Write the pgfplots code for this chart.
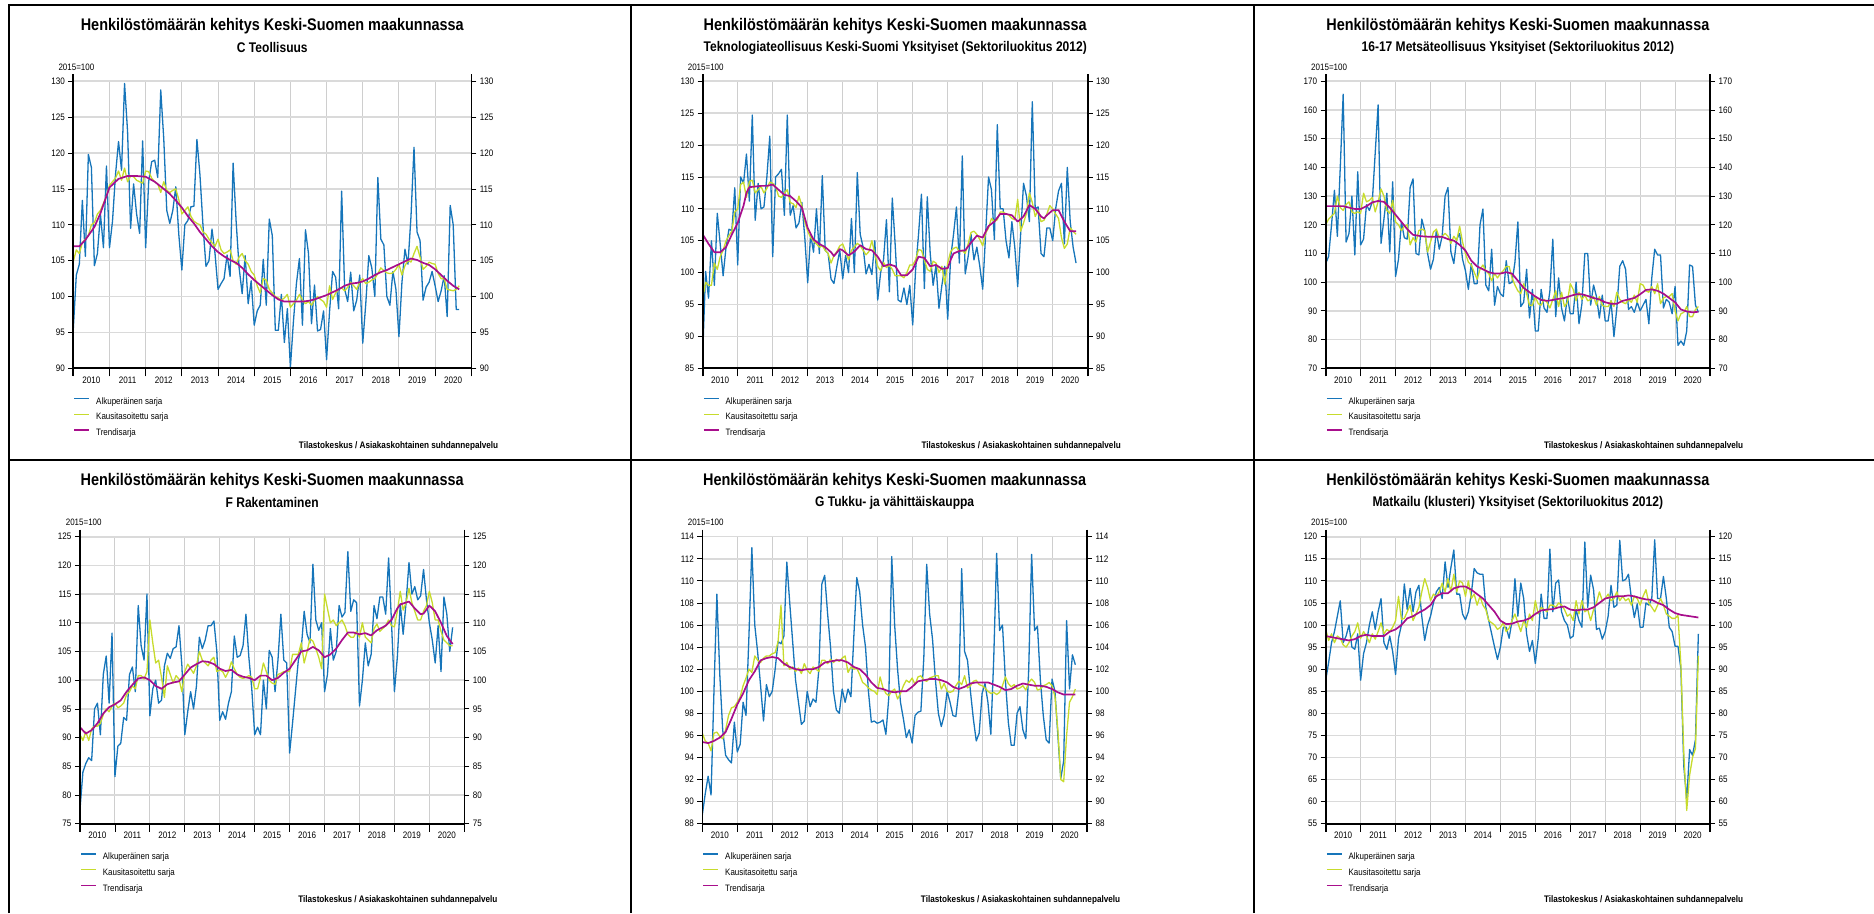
\documentclass[border=0pt]{standalone}
\usepackage{fontspec}
\setmainfont{Liberation Sans}[FakeStretch=0.86]
\usepackage{pgfplots}
\pgfplotsset{compat=1.18}
\definecolor{cblue}{RGB}{22,117,186}
\definecolor{cgreen}{RGB}{199,219,44}
\definecolor{cmag}{RGB}{168,14,140}
\definecolor{cgrid}{RGB}{218,218,218}
\definecolor{cgridx}{RGB}{206,206,206}
\newcommand{\ttl}{\fontsize{16.8}{19}\selectfont\bfseries}
\newcommand{\sub}{\fontsize{14}{16}\selectfont\bfseries}
\newcommand{\sml}{\fontsize{9.3}{11}\selectfont}
\newcommand{\src}{\fontsize{9.5}{11}\selectfont\bfseries}
\pgfplotsset{
 pbase/.style={scale only axis, height=287pt, xmin=0, xmax=132, anchor=south west,
   axis line style={draw=none}, tick align=outside, major tick length=5pt,
   tick style={black, line width=0.8pt},
   ticklabel style={font=\fontsize{9.4}{10}\selectfont},
   /pgf/number format/assume math mode=true},
 pmain/.style={pbase, xtick={0,12,...,132}, xtick style={draw=none},
   x tick label as interval,
   xticklabels={2010,2011,2012,2013,2014,2015,2016,2017,2018,2019,2020},
   ytick pos=left, xmajorgrids, ymajorgrids,
   x grid style={cgridx, line width=1pt},
   y grid style={cgrid, line width=1.6pt},
   legend style={at={(rel axis cs:0,0)}, anchor=north west, yshift=-27pt,
     draw=none, fill=none, inner sep=0pt, row sep=3.5pt, column sep=4pt,
     font=\sml, cells={anchor=west}},
   legend image code/.code={\draw[#1] (0pt,3pt) -- (15pt,3pt);},
   legend cell align=left,
   after end axis/.code={
     \draw[line width=1.6pt] ([yshift=7pt]rel axis cs:0,1) -- ([yshift=-8pt]rel axis cs:0,0);
     \draw[line width=1.6pt] ([yshift=7pt]rel axis cs:1,1) -- ([yshift=-8pt]rel axis cs:1,0);
     \draw[line width=1.6pt] (rel axis cs:0,0) -- (rel axis cs:1,0);}},
 pright/.style={pbase, xtick=\empty, ytick pos=right, yticklabel pos=right},
 pxt/.style={pbase, major tick length=8pt, xtick={0,12,...,132}, xticklabels={},
   xtick pos=bottom, ytick=\empty},
 sblue/.style={cblue, line width=1.3pt, line join=round, no marks},
 sgreen/.style={cgreen, line width=1.3pt, line join=round, no marks},
 smag/.style={cmag, line width=1.7pt, line join=round, no marks},
 table/tb/.style={row sep=\\, header=false, x expr=\coordindex, y index=0},
}
\begin{document}
\begin{tikzpicture}[x=1pt,y=1pt]
\path[use as bounding box] (0,0) rectangle (1874,913);
\draw[line width=2pt] (9,0) -- (9,909);
\draw[line width=2pt] (8,908) -- (1874,908);
\draw[line width=2.3pt] (631.2,0) -- (631.2,909);
\draw[line width=2.3pt] (1254,0) -- (1254,909);
\draw[line width=1.3pt] (9,453) -- (1874,453);

% ================= Panel 1: C Teollisuus
\begin{axis}[pmain, at={(73.3pt,544.7pt)}, width=398pt, ymin=90, ymax=130, ytick={90,95,...,130}]
\addplot[sblue] table[tb]{95.5\\103\\104.5\\113.4\\105.6\\119.8\\118\\104.3\\106\\111.5\\106.8\\118.2\\
106.8\\110.5\\117\\121.6\\117.6\\129.7\\123\\109.5\\115.7\\111.5\\108.8\\121.7\\
106.8\\116\\118.8\\119\\116.6\\128.8\\122\\112\\110.2\\112\\115.3\\108.6\\
103.7\\110\\110.6\\112.5\\112.6\\121.9\\117\\110\\104.2\\105\\109.4\\106\\
101\\101.8\\102.5\\105.8\\102.8\\118.6\\110.5\\104\\100.4\\105.7\\99\\102.2\\
96\\98\\98.8\\105.2\\98.8\\110.8\\108.5\\95.3\\95.3\\100.3\\93.6\\98.3\\
90.1\\96.5\\101.8\\105.3\\96\\109.3\\106\\96.2\\101.6\\95.2\\95.4\\98\\
91.2\\98\\103.5\\102.7\\98.3\\114.7\\101\\99.3\\103.4\\98\\99.5\\103\\
93.5\\99\\105.7\\104\\100\\116.6\\108\\107.2\\100\\98.8\\103.5\\101\\
94.4\\102\\106.6\\104.5\\111.2\\120.8\\109\\107.8\\99.5\\101.3\\102\\103.5\\
101.5\\99.3\\100.8\\102.9\\97.2\\112.7\\110\\98.2\\98.2\\};
\addlegendentry{Alkuperäinen sarja}
\addplot[sgreen] table[tb]{104.9\\106.5\\106\\107.5\\108\\108.5\\110\\110.3\\111.5\\112\\113\\114\\
115.5\\116\\116.5\\117.5\\116.2\\117.9\\116\\116.8\\116.7\\116.2\\116\\115.8\\
117.5\\117.4\\116.5\\116\\115.7\\114.5\\116\\114.8\\114.5\\114.8\\115\\113.5\\
111.5\\112\\112.5\\111.2\\110.5\\110.2\\110\\109\\108.7\\108\\107.5\\107\\
108\\106.5\\106\\106.2\\106.5\\105\\104.5\\105.5\\106\\105\\104.5\\103.5\\
103\\101.5\\100.5\\102.5\\102.3\\101\\100.5\\100\\99.8\\99.5\\99.8\\100.3\\
98.5\\99\\99.5\\100.3\\99.5\\99\\99.3\\98.8\\99.5\\100\\99.6\\99.3\\
98.5\\101.5\\99.6\\100.5\\101\\101.2\\100.8\\101.3\\102\\101.5\\101\\102\\
102.5\\101.8\\102\\102.3\\102.5\\103.2\\104\\103.6\\103.3\\103.2\\103.3\\103.8\\
104.5\\103\\104.3\\105\\104.8\\106\\107\\105.5\\103.8\\104.2\\104.8\\104.6\\
104.5\\103.2\\102.5\\102.5\\101\\100.9\\100.8\\101\\101.5\\};
\addlegendentry{Kausitasoitettu sarja}
\addplot[smag] coordinates {(0,107)(2,107)(4,107.9)(7,109.7)(9,111.6)(10,112.8)(12,115.2)(15,116.4)(18,116.8)(21,116.8)(24,116.7)(27,116)(30,115)(32,114.3)(34,113.4)(36,112.4)(38,111.2)(40,110.2)(42,109)(44,108)(46,107)(48,106.2)(50,105.6)(52,105.1)(54,104.7)(56,104)(58,103.1)(60,102.3)(62,101.6)(64,100.9)(66,100.2)(68,99.6)(70,99.3)(72,99.3)(74,99.3)(76,99.3)(78,99.4)(80,99.6)(82,99.9)(84,100.2)(86,100.6)(88,101)(90,101.5)(92,101.8)(94,101.9)(96,102.1)(98,102.5)(100,103)(102,103.4)(104,103.7)(106,104.1)(108,104.5)(110,104.9)(112,105.3)(114,105.1)(116,104.7)(118,104.4)(120,103.8)(122,103)(124,102.2)(126,101.5)(128,101)};
\addlegendentry{Trendisarja}
\end{axis}
\begin{axis}[pright, at={(73.3pt,544.7pt)}, width=398pt, ymin=90, ymax=130, ytick={90,95,...,130}]\end{axis}
\begin{axis}[pxt, at={(73.3pt,544.7pt)}, width=398pt, ymin=90, ymax=130]\end{axis}
\node[font=\ttl] at (272.3,887) {Henkilöstömäärän kehitys Keski-Suomen maakunnassa};
\node[font=\sub] at (272.3,865.3) {C Teollisuus};
\node[anchor=west,font=\sml] at (55,845.3) {2015=100};
\node[anchor=east,font=\src] at (501.7,467.3) {Tilastokeskus / Asiakaskohtainen suhdannepalvelu};

% ================= Panel 2: Teknologiateollisuus
\begin{axis}[pmain, at={(702.7pt,544.7pt)}, width=385pt, ymin=85, ymax=130, ytick={85,90,...,130}]
\addplot[sblue] table[tb]{87.3\\100.2\\96\\105\\98\\109.3\\104.5\\99.5\\104\\106.8\\106.6\\113.3\\
101.2\\115\\114\\118.6\\111.2\\124.7\\108.2\\114\\110\\110.3\\115\\121.4\\
102.5\\115\\115.5\\116.2\\109\\124.7\\109\\110.5\\107\\107.8\\111\\105.5\\
98.4\\106\\103.2\\110\\103\\115.2\\103.5\\103\\99\\98.3\\101\\103.5\\
99\\102.7\\100\\108.5\\100\\115.7\\106\\104\\99.8\\101.3\\99.7\\105\\
95.7\\100\\102\\108.3\\97\\111.7\\104.3\\95.7\\95.4\\97.6\\95\\98\\
91.8\\100.5\\106\\112.3\\97.5\\111.9\\103\\98\\101.2\\94.4\\98\\101\\
92.7\\102.3\\106\\110.3\\101.5\\118.3\\99.8\\102.5\\106\\102\\104\\101\\
97.4\\106\\115\\113\\105.2\\123.2\\110\\110\\105\\102.3\\108\\104\\
97.8\\106\\114\\112\\108\\126.8\\110\\110.3\\103\\102.5\\107\\107\\
105\\110\\112.8\\114\\104.5\\116.5\\108\\104\\101.5\\};
\addlegendentry{Alkuperäinen sarja}
\addplot[sgreen] table[tb]{96\\98.5\\98\\98\\101.5\\100.5\\102.5\\103.5\\105\\105.8\\106.5\\109.5\\
110\\113.8\\114.2\\111.8\\114.3\\114.5\\112.5\\113\\113.5\\112.5\\113.2\\114.2\\
114\\113.5\\112\\111.8\\112.5\\113\\111\\110.8\\110.2\\112\\110.5\\108\\
106.5\\105.5\\105\\104.5\\104\\104.2\\103.5\\103\\101.5\\102.7\\103.3\\104.2\\
104.5\\103.3\\102\\103.5\\104\\104.6\\104.2\\103.5\\102.8\\103.3\\105\\103\\
101\\100.3\\101.6\\100.8\\101.2\\100.5\\99.5\\99.5\\99.5\\99.2\\100\\101.2\\
101.2\\102\\103.6\\103.5\\102\\100.5\\100.2\\101.8\\101.5\\100\\101\\98.2\\
101.5\\103.3\\103.8\\104\\103.3\\103.5\\103\\104.5\\106.3\\106.5\\106\\105.2\\
104.2\\106.2\\107\\108.5\\108\\108.3\\109.5\\109.5\\109.2\\109\\108.5\\108.3\\
111.5\\106.5\\107.8\\109.3\\112.5\\111\\108.8\\109.8\\108\\108.2\\109.2\\110.5\\
110\\109.2\\108.5\\105.5\\103.8\\104.5\\107\\106.5\\106\\};
\addlegendentry{Kausitasoitettu sarja}
\addplot[smag] coordinates {(0,106)(2,104.5)(4,103.2)(6,103.2)(8,104)(10,106)(12,107.8)(14,110.5)(15,112.5)(16,113.4)(18,113.5)(20,113.6)(22,113.6)(24,113.8)(26,113)(28,112.2)(30,112)(32,111.2)(34,110.2)(36,107)(38,105.2)(40,104.5)(42,104)(44,103.2)(45,102.6)(47,103.7)(48,103.5)(50,102.7)(52,103.3)(54,104.3)(56,103.7)(58,103.5)(60,102.5)(62,101)(64,101.3)(66,101)(68,99.6)(70,99.6)(72,100.5)(74,102.5)(76,102.3)(78,101)(80,101.2)(82,100.6)(84,100.7)(85,102)(86,103)(88,103.4)(90,103.5)(92,104.7)(94,105.8)(96,105.5)(98,107.3)(100,108)(102,109.2)(104,109.2)(106,109)(108,108)(110,108.8)(112,110.6)(114,110)(116,108.8)(117,108.5)(118,109)(120,109.8)(122,109.8)(124,108)(126,106.5)(128,106.5)};
\addlegendentry{Trendisarja}
\end{axis}
\begin{axis}[pright, at={(702.7pt,544.7pt)}, width=385pt, ymin=85, ymax=130, ytick={85,90,...,130}]\end{axis}
\begin{axis}[pxt, at={(702.7pt,544.7pt)}, width=385pt, ymin=85, ymax=130]\end{axis}
\node[font=\ttl] at (895.2,887) {Henkilöstömäärän kehitys Keski-Suomen maakunnassa};
\node[font=\sub] at (895.2,865.3) {Teknologiateollisuus Keski-Suomi Yksityiset (Sektoriluokitus 2012)};
\node[anchor=west,font=\sml] at (684.3,845.3) {2015=100};
\node[anchor=east,font=\src] at (1124.3,467.3) {Tilastokeskus / Asiakaskohtainen suhdannepalvelu};

% ================= Panel 3: Metsateollisuus
\begin{axis}[pmain, at={(1325.7pt,544.7pt)}, width=384.3pt, ymin=70, ymax=170, ytick={70,80,...,170}]
\addplot[sblue] table[tb]{106.5\\109\\120\\132\\116\\140\\165.5\\114\\117\\130\\109.5\\138.5\\
113\\115\\127\\125\\128\\145\\161.8\\113.5\\122\\131\\110.5\\135\\
102\\108\\121\\115.5\\115\\133\\136\\110\\109.5\\122\\118\\110\\
104.5\\108\\118\\111.5\\116\\130\\133\\110.5\\106.5\\115\\117\\108\\
104\\97.5\\106.5\\99.5\\99.5\\120\\125.5\\99\\97\\111.5\\92\\98.5\\
96\\95\\107.5\\99.5\\100\\107\\121\\91.5\\93\\104.5\\87.5\\97.5\\
83\\83\\97.5\\91\\89.5\\97\\115\\88\\101.5\\91\\86.5\\95\\
89\\89\\100\\85.5\\92.5\\110\\110\\92\\99\\95\\87.5\\95.5\\
86.5\\86.5\\93.5\\81\\91\\105.5\\107.5\\104.5\\90.5\\91.5\\89.5\\93\\
90\\92\\94\\85.5\\101.5\\111.5\\109.5\\109.5\\91\\94\\93\\89\\
98.5\\78\\79.5\\78\\83\\106\\105.5\\92\\89.5\\};
\addlegendentry{Alkuperäinen sarja}
\addplot[sgreen] table[tb]{120\\122\\123\\124\\130\\126\\125\\127\\128\\124.5\\124\\124.5\\
124\\131\\128\\128.5\\129.5\\124.5\\128\\132.5\\130\\125\\124\\128.5\\
121\\120\\118\\119.5\\120\\113\\115.5\\114\\118\\118.5\\118\\110.5\\
114\\117.5\\118.5\\115.5\\116\\117\\116\\113.5\\116\\114.5\\119.5\\114\\
110\\107\\106\\103.5\\101\\104.5\\106\\104\\103\\100.5\\103\\101.5\\
103\\104\\105.5\\105.5\\101.5\\99\\97\\96\\99.5\\96\\92\\92\\
95\\92.5\\92\\94\\93\\91\\94\\97\\91.5\\96.5\\91.5\\93\\
99.5\\97.5\\93.5\\96.5\\94\\95.5\\93.5\\94\\95\\92\\95\\92\\
91.5\\91.5\\93.5\\91.5\\96.5\\94\\93\\92.5\\94\\93\\95.5\\93\\
99.5\\99\\97\\96.5\\98.5\\96\\99.5\\92.5\\94.5\\95\\95\\96\\
90\\86.5\\89\\89.5\\91.5\\88\\88\\90.5\\91.5\\};
\addlegendentry{Kausitasoitettu sarja}
\addplot[smag] coordinates {(0,126.5)(6,126.5)(8,126)(10,125.5)(12,125.5)(14,126.5)(16,127.8)(18,128.3)(20,128)(22,126)(24,123.5)(26,121)(28,118.5)(30,116.5)(33,116)(36,115.8)(40,115.8)(42,115)(44,114.5)(46,113)(48,111)(50,107.5)(52,105.5)(54,104.5)(56,103.5)(58,103)(60,103)(62,103.5)(64,103)(66,100.5)(68,98)(70,96.5)(72,95)(74,93.8)(76,93.5)(78,93.8)(80,94.2)(82,94.5)(84,95.2)(86,95.8)(88,95.8)(90,95.2)(92,94.5)(94,94)(96,93)(98,92.5)(100,92.5)(102,93.5)(104,94)(106,94.5)(108,95.8)(110,97.3)(112,97.5)(114,97)(116,96)(118,94.5)(120,93)(122,90.5)(124,89.8)(126,89.5)(128,89.7)};
\addlegendentry{Trendisarja}
\end{axis}
\begin{axis}[pright, at={(1325.7pt,544.7pt)}, width=384.3pt, ymin=70, ymax=170, ytick={70,80,...,170}]\end{axis}
\begin{axis}[pxt, at={(1325.7pt,544.7pt)}, width=384.3pt, ymin=70, ymax=170]\end{axis}
\node[font=\ttl] at (1517.85,887) {Henkilöstömäärän kehitys Keski-Suomen maakunnassa};
\node[font=\sub] at (1517.85,865.3) {16-17 Metsäteollisuus Yksityiset (Sektoriluokitus 2012)};
\node[anchor=west,font=\sml] at (1307.7,845.3) {2015=100};
\node[anchor=east,font=\src] at (1746.7,467.3) {Tilastokeskus / Asiakaskohtainen suhdannepalvelu};

% ================= Panel 4: F Rakentaminen
\begin{axis}[pmain, at={(80pt,89.3pt)}, width=384.3pt, ymin=75, ymax=125, ytick={75,80,...,125}]
\addplot[sblue] table[tb]{77.5\\84\\85.5\\86.5\\86\\95\\96\\90.5\\101\\104.2\\96\\108.2\\
83.2\\88.5\\89\\93.5\\93\\101\\102.3\\98\\113\\106\\103.5\\115\\
93.8\\98.5\\100\\96\\96.5\\102.5\\104.7\\103.8\\105.5\\105.8\\109.5\\102.5\\
90.5\\94.5\\98\\95\\99\\107.5\\105.5\\107\\109.5\\109.5\\110.3\\105\\
93\\94.5\\93.2\\96\\98\\107.7\\104\\104.3\\106\\111.5\\104\\98.5\\
90.5\\91.8\\90.5\\100\\95\\105.2\\104\\98\\103.5\\111.5\\103.5\\103\\
87.3\\92.5\\98\\103.5\\105.5\\112\\108\\106.5\\120.2\\110.5\\108.7\\110\\
98\\101\\109\\103.5\\105\\113\\111\\111.8\\122.4\\112\\114\\113.5\\
95.5\\100\\106.5\\102.5\\104.5\\113\\110.7\\114.5\\114.5\\111.5\\121.3\\110\\
98\\104\\113.3\\108\\113.5\\120.5\\115\\116.3\\114\\114.7\\119.3\\114\\
110\\107\\103\\109.5\\101.5\\114.5\\111.5\\105\\109.2\\};
\addlegendentry{Alkuperäinen sarja}
\addplot[sgreen] table[tb]{90.5\\89.5\\91\\89.5\\91.5\\92\\92\\92.5\\94\\95\\94.5\\95.5\\
96\\95.2\\95.5\\96\\97.5\\98\\99\\98.5\\100.8\\100.8\\100.2\\101.5\\
110.5\\106.5\\103\\103.5\\100.5\\97\\102.5\\101\\99.5\\100.8\\100.2\\98\\
101.5\\102.8\\102\\101.2\\102.5\\105\\103.5\\103\\102.5\\103.5\\104\\101.5\\
101.8\\101.5\\100.5\\101.5\\103.2\\102\\101\\100.5\\100.3\\100.5\\100.8\\100.5\\
98.5\\98.5\\100.5\\103\\101.5\\100\\99.5\\99.3\\101\\101.2\\101.5\\101.5\\
101.5\\104.5\\104.5\\104.5\\106.5\\103\\105\\107.2\\106.8\\105.5\\104\\102\\
115\\112.5\\110\\110.5\\109.5\\110\\110.5\\109.5\\108\\107.5\\107.5\\108.5\\
107.5\\110\\107.5\\107\\106.5\\109\\109.8\\108.5\\109\\109.5\\110.5\\109.5\\
109.3\\112\\115.5\\112.2\\113.5\\116\\113.5\\112\\110.5\\110.5\\112\\113\\
115.5\\113.5\\110.5\\110.5\\108.5\\107\\106.5\\106\\106\\};
\addlegendentry{Kausitasoitettu sarja}
\addplot[smag] coordinates {(0,91.8)(2,90.7)(4,91.3)(6,92.5)(8,94.2)(10,95.3)(12,95.8)(14,96.5)(16,98)(18,99.2)(20,100.3)(22,100.5)(24,100)(26,99)(28,98.5)(30,99.3)(32,99.6)(34,99.8)(36,101)(38,102.2)(40,102.8)(42,103.3)(44,103.2)(46,102.8)(48,102)(50,101.6)(52,101.8)(54,101)(56,100.6)(58,100.4)(60,100)(62,100.8)(64,100.8)(66,100)(68,100.4)(70,101.3)(72,102)(74,103.5)(76,105)(78,105.2)(80,105.8)(82,105.2)(84,104)(86,104.5)(88,105.5)(90,107)(92,108.3)(94,108.3)(96,108)(98,108.2)(100,107.8)(102,108.7)(105,109.5)(107,110.5)(109,112.5)(110,113.2)(113,113.7)(115,112.5)(117,111.5)(118,111.6)(120,113)(122,112)(124,110)(126,107.7)(128,106.3)};
\addlegendentry{Trendisarja}
\end{axis}
\begin{axis}[pright, at={(80pt,89.3pt)}, width=384.3pt, ymin=75, ymax=125, ytick={75,80,...,125}]\end{axis}
\begin{axis}[pxt, at={(80pt,89.3pt)}, width=384.3pt, ymin=75, ymax=125]\end{axis}
\node[font=\ttl] at (272.15,432) {Henkilöstömäärän kehitys Keski-Suomen maakunnassa};
\node[font=\sub] at (272.15,410.3) {F Rakentaminen};
\node[anchor=west,font=\sml] at (62.3,390.3) {2015=100};
\node[anchor=east,font=\src] at (501,12.7) {Tilastokeskus / Asiakaskohtainen suhdannepalvelu};

% ================= Panel 5: G Tukku- ja vahittaiskauppa
\begin{axis}[pmain, at={(702.3pt,89.3pt)}, width=384.7pt, ymin=88, ymax=114, ytick={88,90,...,114}]
\addplot[sblue] table[tb]{88.8\\90.7\\92.3\\90.6\\100\\108.8\\101.5\\96.5\\94.2\\93.8\\93.5\\97.2\\
94.5\\95.2\\99\\97.8\\105\\113\\106\\103.5\\100.5\\97.3\\100.6\\99.5\\
100\\102\\104.5\\104.3\\105\\111.7\\108\\104.5\\101\\99\\97\\97.3\\
100\\98.6\\99.3\\99\\102\\109.7\\110.5\\107\\104\\100\\98.3\\98\\
100.2\\99\\100.2\\99.5\\105\\110.3\\109\\106\\104\\100\\97.2\\97.3\\
97.1\\97.2\\97.4\\96.1\\99.5\\112.2\\106\\102\\99\\97.5\\95.8\\96.5\\
95.3\\97.8\\98.1\\98.2\\103\\111.5\\107\\104.7\\101\\98\\96.8\\97.8\\
100\\99\\97.8\\97.7\\100\\111.1\\103.6\\102.8\\100\\97.5\\95.5\\96.2\\
99.8\\100.7\\99\\96.1\\103\\112.5\\105.5\\106\\101\\97.2\\95.1\\95.1\\
98\\98.6\\96.5\\95.7\\102\\112.4\\105.5\\105.9\\101\\97.8\\95.6\\95.3\\
101.1\\100\\96\\92.1\\93.7\\106.4\\100.2\\103.3\\102.4\\};
\addlegendentry{Alkuperäinen sarja}
\addplot[sgreen] table[tb]{96.2\\95.5\\95.3\\94.6\\96.2\\96.3\\95.9\\95.7\\96.5\\97.8\\98.5\\98.6\\
99\\99.5\\100.5\\101.2\\102\\101.7\\103.2\\102.8\\102.6\\103\\103.2\\103.2\\
103.4\\103.5\\104.5\\107.8\\102.3\\102.6\\102\\102.2\\101.8\\102.1\\101.6\\102.5\\
101.9\\101.6\\102.2\\102\\101.8\\102.8\\102.8\\102.5\\102.9\\102.6\\102.9\\102.7\\
103\\103.2\\101.7\\102.2\\102\\102.1\\101.5\\100.8\\100.6\\100.3\\100.1\\100\\
99.7\\101.3\\100.3\\99.8\\99.6\\100\\100.2\\99.3\\99.8\\100.5\\101\\100.8\\
101.2\\100.6\\101.3\\101.4\\101\\100.9\\101.2\\101.3\\101.4\\101.4\\100.2\\100.7\\
100\\99.9\\100\\100.5\\100.9\\100.6\\101.4\\100.3\\100.5\\100.9\\101\\100.6\\
100.5\\100.3\\100\\99.8\\99.9\\99.7\\99.9\\100.5\\101.3\\100.7\\100.4\\100.6\\
100.2\\100.3\\100.5\\100.1\\100.8\\101.1\\100.8\\100.1\\100.2\\100.5\\100.6\\100.8\\
100.5\\99.5\\96.5\\92\\91.8\\96\\99\\99.5\\100.2\\};
\addlegendentry{Kausitasoitettu sarja}
\addplot[smag] coordinates {(0,95.4)(2,95.3)(4,95.5)(6,95.8)(8,96.3)(10,97.5)(12,98.8)(14,99.8)(16,101)(18,101.8)(20,102.8)(22,103)(24,103.1)(26,103)(28,102.5)(30,102.2)(32,102)(34,101.9)(36,102)(38,102)(40,102.2)(42,102.6)(44,102.7)(46,102.8)(48,102.8)(50,102.6)(52,102.2)(54,102)(56,101.5)(58,100.8)(60,100.3)(62,100.2)(64,100)(66,99.9)(68,100)(70,100)(72,100.4)(74,100.9)(76,101)(78,101.1)(80,101.1)(82,101)(84,100.8)(86,100.4)(88,100.2)(90,100.4)(92,100.7)(94,100.8)(96,100.8)(98,100.8)(100,100.6)(102,100.4)(104,100.1)(106,100.2)(108,100.5)(110,100.7)(112,100.6)(114,100.5)(116,100.5)(118,100.4)(120,100.2)(122,99.9)(124,99.7)(126,99.7)(128,99.7)};
\addlegendentry{Trendisarja}
\end{axis}
\begin{axis}[pright, at={(702.3pt,89.3pt)}, width=384.7pt, ymin=88, ymax=114, ytick={88,90,...,114}]\end{axis}
\begin{axis}[pxt, at={(702.3pt,89.3pt)}, width=384.7pt, ymin=88, ymax=114]\end{axis}
\node[font=\ttl] at (894.65,432) {Henkilöstömäärän kehitys Keski-Suomen maakunnassa};
\node[font=\sub] at (894.65,410.3) {G Tukku- ja vähittäiskauppa};
\node[anchor=west,font=\sml] at (684.3,390.3) {2015=100};
\node[anchor=east,font=\src] at (1123.7,12.7) {Tilastokeskus / Asiakaskohtainen suhdannepalvelu};

% ================= Panel 6: Matkailu
\begin{axis}[pmain, at={(1325.7pt,89.3pt)}, width=384.3pt, ymin=55, ymax=120, ytick={55,60,...,120}]
\addplot[sblue] table[tb]{87.5\\91.5\\96\\98.5\\102\\105.5\\96\\97.5\\100\\95\\94.5\\98\\
87.5\\93.5\\96\\100\\103\\99\\103\\106\\96\\94.5\\97.5\\94\\
88.8\\97\\100\\109.3\\103.5\\108.3\\103\\107.5\\109\\102\\96.5\\100\\
102\\105\\107.5\\108.5\\106\\114.3\\108.5\\113\\117\\107\\107\\102.5\\
101.2\\103\\107\\112.8\\111.8\\111.5\\111.5\\104\\101\\98\\95\\92.2\\
95\\99.5\\99.5\\97\\101\\110.5\\102\\109.5\\106\\98\\94\\96.5\\
91.3\\97\\107\\101.5\\101.5\\117.2\\103\\109.5\\110.2\\103\\101\\100\\
97\\97.5\\103.5\\101\\99.5\\118.8\\104\\111.3\\108\\99\\99.3\\96.8\\
98.5\\102\\109\\104\\104.5\\119.2\\110\\110.3\\111.5\\106\\101.7\\104.8\\
99.5\\99.5\\105\\104.5\\106\\119.3\\106\\106\\111\\106\\99.5\\98.5\\
95.2\\95.2\\90\\68\\60.5\\71.8\\70.5\\74\\98\\};
\addlegendentry{Alkuperäinen sarja}
\addplot[sgreen] table[tb]{99\\96.5\\98\\96\\97.5\\97\\95.5\\95\\96\\97.5\\98.5\\100.5\\
97\\98.5\\97.5\\96\\98\\96.8\\98.5\\100.5\\98\\99\\98.5\\99.5\\
101\\106.5\\101.3\\101.5\\103\\104.5\\101\\102.5\\104\\107.5\\110.5\\108.5\\
105.5\\107\\106.5\\107.5\\109.5\\107.5\\110.5\\107.5\\111.5\\107.5\\110\\109.5\\
106.5\\110\\106\\107\\104.5\\106.5\\104.5\\103.5\\101\\100.5\\100\\99\\
99.5\\100.5\\98.5\\99.3\\101\\102.5\\100.5\\98.5\\101\\99.5\\102.5\\101\\
105.5\\102.5\\104\\103.5\\103\\104.5\\104.5\\104\\105\\104.5\\103.5\\102\\
102.5\\101\\105.5\\102.5\\105.5\\103\\103.5\\101\\103.5\\105\\107.5\\105.5\\
106\\107\\105.5\\106\\107.5\\105.5\\106.5\\105.5\\106\\104.5\\106.5\\106\\
104.5\\106.5\\108\\105\\104\\103\\104.5\\106\\104.5\\102.5\\102\\101.5\\
101.5\\102.2\\91\\71\\58\\66\\70\\72\\93\\};
\addlegendentry{Kausitasoitettu sarja}
\addplot[smag] coordinates {(0,97.5)(4,97)(8,96.5)(10,96.8)(12,97.5)(14,97.8)(16,97.5)(18,97.5)(20,97.5)(22,98.5)(24,99)(26,100)(28,101.5)(30,102)(32,102.8)(34,103.5)(36,104.5)(38,106.5)(40,107.2)(42,107.2)(44,108.3)(46,108.7)(48,108.7)(50,108)(52,107)(54,106)(56,104.5)(58,103)(60,101)(62,100.2)(64,100.3)(66,100.8)(68,101)(70,101.5)(72,102.5)(74,103.3)(76,103.5)(78,103.6)(80,104)(82,104.2)(84,103.5)(86,103.3)(88,103.5)(90,103.5)(92,104)(94,105)(96,106)(98,106.3)(100,106.5)(102,106.5)(104,106.7)(106,106.5)(108,106.1)(110,105.8)(112,105.7)(114,105)(116,104.5)(118,103.5)(120,102.7)(122,102.3)(124,102.1)(126,101.9)(128,101.7)};
\addlegendentry{Trendisarja}
\end{axis}
\begin{axis}[pright, at={(1325.7pt,89.3pt)}, width=384.3pt, ymin=55, ymax=120, ytick={55,60,...,120}]\end{axis}
\begin{axis}[pxt, at={(1325.7pt,89.3pt)}, width=384.3pt, ymin=55, ymax=120]\end{axis}
\node[font=\ttl] at (1517.85,432) {Henkilöstömäärän kehitys Keski-Suomen maakunnassa};
\node[font=\sub] at (1517.85,410.3) {Matkailu (klusteri) Yksityiset (Sektoriluokitus 2012)};
\node[anchor=west,font=\sml] at (1307.7,390.3) {2015=100};
\node[anchor=east,font=\src] at (1746.7,12.7) {Tilastokeskus / Asiakaskohtainen suhdannepalvelu};
\end{tikzpicture}
\end{document}
